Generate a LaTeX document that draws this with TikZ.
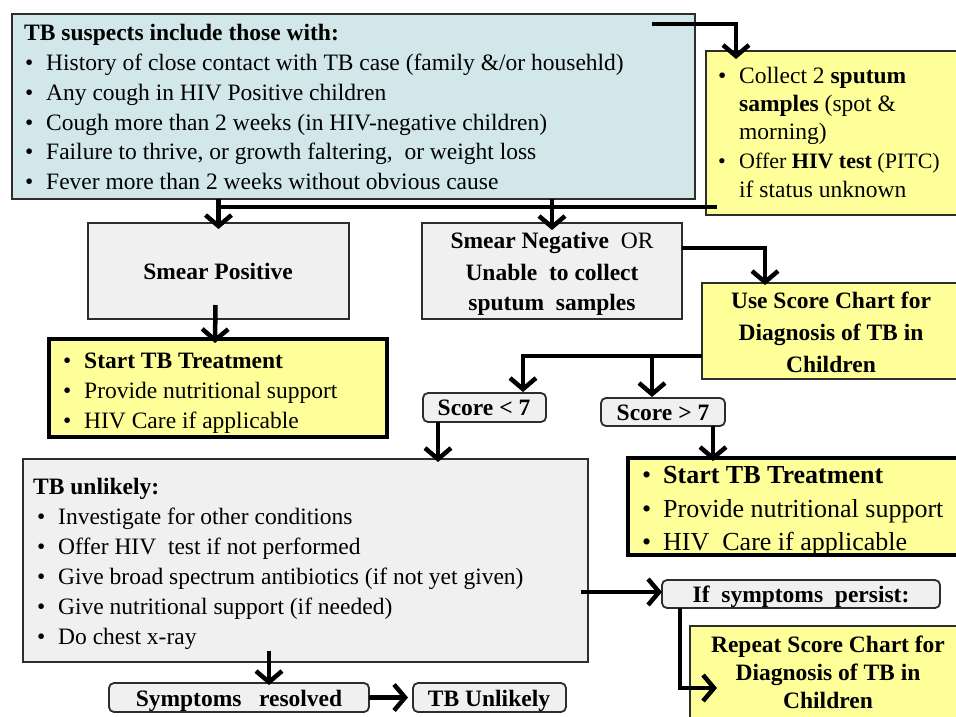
\documentclass[tikz,border=0pt]{standalone}
\usepackage{fontspec}
\setmainfont{Liberation Serif}
\usetikzlibrary{arrows.meta,calc}
\definecolor{bluefill}{RGB}{209,231,233}
\definecolor{yel}{RGB}{255,255,153}
\definecolor{grayfill}{RGB}{240,240,240}
\definecolor{edge}{RGB}{45,45,45}
\newcommand\bul{\makebox[21pt][l]{\textbullet}}
\begin{document}
\begin{tikzpicture}[x=1pt,y=-1pt,
  boxbase/.style={draw=edge, line width=1.8pt, inner sep=0pt, outer sep=0pt, anchor=north west},
  bluebox/.style={boxbase, fill=bluefill},
  yelbox/.style={boxbase, fill=yel},
  yelthick/.style={boxbase, fill=yel, draw=black, line width=3.6pt},
  graybox/.style={boxbase, fill=grayfill},
  pill/.style={boxbase, fill=grayfill, rounded corners=5pt},
  t/.style={inner sep=0pt, anchor=base west, font=\fontsize{23.5}{28}\selectfont},
  tc/.style={inner sep=0pt, anchor=base, font=\fontsize{23.5}{28}\selectfont},
  tb/.style={inner sep=0pt, anchor=base west, font=\fontsize{26}{30}\selectfont},
  ln/.style={line width=4.5pt, draw=black},
  arr/.style={line width=4.5pt, draw=black, -{Straight Barb[length=11pt,width=26pt]}}
]
\useasboundingbox[fill=white] (0,0) rectangle (956,716);

% boxes
\node[bluebox, minimum width=683pt, minimum height=185pt] (main) at (12,14) {};
\node[yelbox, minimum width=254pt, minimum height=164pt] (y1) at (706,51) {};
\node[graybox, minimum width=261pt, minimum height=96pt] (sp) at (88,223) {};
\node[graybox, minimum width=260pt, minimum height=96pt] (sn) at (422,223) {};
\node[yelbox, minimum width=258pt, minimum height=96pt] (usc) at (702,283) {};
\node[yelthick, minimum width=338pt, minimum height=98pt] (stl) at (49,339) {};
\node[pill, minimum width=123pt, minimum height=29pt] (s7a) at (423,393) {};
\node[pill, minimum width=124pt, minimum height=28pt] (s7b) at (601,398) {};
\node[graybox, minimum width=565pt, minimum height=203pt] (tbu) at (23,459) {};
\node[yelthick, minimum width=332pt, minimum height=97pt] (str) at (628,458) {};
\node[pill, minimum width=278pt, minimum height=28pt] (ifs) at (662,580) {};
\node[yelbox, minimum width=270pt, minimum height=100pt] (rep) at (690,626) {};
\node[pill, minimum width=260pt, minimum height=29pt] (sres) at (109,683) {};
\node[pill, minimum width=153pt, minimum height=29pt] (tbun) at (413,683) {};

% texts: main box
\node[t] (m0) at (24,40) {\bfseries TB suspects include those with:};
\node[t] (m1) at (25,70) {\bul History of close contact with TB case (family \&/or househld)};
\node[t] (m2) at (25,100) {\bul Any cough in HIV Positive children};
\node[t] (m3) at (25,130) {\bul Cough more than 2 weeks (in HIV-negative children)};
\node[t] (m4) at (25,159) {\bul Failure to thrive, or growth faltering,\ \ or weight loss};
\node[t] (m5) at (25,189) {\bul Fever more than 2 weeks without obvious cause};

% yellow box 1
\node[t] (y1a) at (718,83) {\bul Collect 2 \textbf{sputum}};
\node[t] (y1b) at (739,111) {\textbf{samples} (spot \&};
\node[t] (y1c) at (739,139) {morning)};
\node[t, font=\fontsize{22}{28}\selectfont] (y1d) at (718,168) {\bul Offer \textbf{HIV test} (PITC)};
\node[t] (y1e) at (739,197) {if status unknown};

% smear boxes
\node[tc] (spt) at (218,279) {\bfseries Smear Positive};
\node[tc] (sn1) at (552,248) {\textbf{Smear Negative}\ \ OR};
\node[tc] (sn2) at (552,280) {\bfseries Unable\ \ to collect};
\node[tc] (sn3) at (552,310) {\bfseries sputum\ \ samples};

% score chart
\node[tc] (u1) at (831,308) {\bfseries Use Score Chart for};
\node[tc] (u2) at (831,340) {\bfseries Diagnosis of TB in};
\node[tc] (u3) at (831,372) {\bfseries Children};

% start left
\node[t] (l1) at (63,368) {\bul\textbf{Start TB Treatment}};
\node[t] (l2) at (63,398) {\bul Provide nutritional support};
\node[t] (l3) at (63,428) {\bul HIV Care if applicable};

% scores
\node[tc] (sa) at (484,415) {\bfseries Score < 7};
\node[tc] (sb) at (663,420) {\bfseries Score > 7};

% TB unlikely
\node[t] (u0) at (33,494) {\bfseries TB unlikely:};
\node[t] (ub1) at (37,524) {\bul Investigate for other conditions};
\node[t] (ub2) at (37,554) {\bul Offer HIV\ \ test if not performed};
\node[t] (ub3) at (37,584) {\bul Give broad spectrum antibiotics (if not yet given)};
\node[t] (ub4) at (37,614) {\bul Give nutritional support (if needed)};
\node[t] (ub5) at (37,644) {\bul Do chest x-ray};

% start right
\node[tb] (r1) at (642,483) {\bul\textbf{Start TB Treatment}};
\node[tb] (r2) at (642,517) {\bul Provide nutritional support};
\node[tb] (r3) at (642,550) {\bul HIV\ \ Care if applicable};

% symptoms persist / repeat
\node[tc] (ift) at (801,602) {\bfseries If\ \ symptoms\ \ persist:};
\node[tc] (rp1) at (828,652) {\bfseries Repeat Score Chart for};
\node[tc] (rp2) at (828,680) {\bfseries Diagnosis of TB in};
\node[tc] (rp3) at (828,708) {\bfseries Children};

% bottom
\node[tc] (sr) at (239,706) {\bfseries Symptoms\ \ \ resolved};
\node[tc] (tu) at (489,706) {\bfseries TB Unlikely};

% connectors
\coordinate (c1a) at ($(main.north east)+(-43,10)$);
\coordinate (c1b) at ($(y1.north west)+(30,8)$);
\draw[arr] (c1a) -| (c1b);

\coordinate (c2a) at ($(y1.south west)+(11,-8)$);
\draw[ln] (c2a) -- (sp.north |- c2a);
\draw[arr] (sp.north |- main.south) -- ($(sp.north)+(0,6)$);
\draw[arr] (sn.north |- main.south) -- ($(sn.north)+(0,7)$);

\draw[arr] ($(sp.south)+(-3,-14)$) -- ($(stl.north)+(-3,4)$);

\coordinate (c4a) at ($(sn.north east)+(0,25)$);
\coordinate (c4b) at ($(usc.north west)+(63,2)$);
\draw[arr] (c4a) -| (c4b);

\coordinate (c5a) at ($(usc.north west)+(0,73)$);
\coordinate (c5b) at ($(s7a.north west)+(100,-1)$);
\coordinate (c5c) at ($(s7b.north west)+(51,-1)$);
\draw[arr] (c5a) -| (c5b);
\draw[arr] (c5c |- c5a) -- (c5c);

\draw[arr] ($(s7a.south west)+(15,0)$) -- ($(tbu.north west)+(415,3)$);
\draw[arr] ($(s7b.south east)+(-12,0)$) -- ($(str.north west)+(85,3)$);

\draw[arr] ($(tbu.east |- ifs.west)+(-7,-2)$) -- ($(ifs.west)+(0,-2)$);

\coordinate (c9a) at ($(ifs.south west)+(18,0)$);
\coordinate (c9b) at ($(rep.north west)+(27,62)$);
\draw[arr] (c9a) |- (c9b);

\draw[arr] ($(tbu.south west)+(246,-11)$) -- ($(sres.north west)+(160,2)$);
\draw[arr] (sres.east) -- ($(tbun.west)+(-5,0)$);
\end{tikzpicture}
\end{document}
